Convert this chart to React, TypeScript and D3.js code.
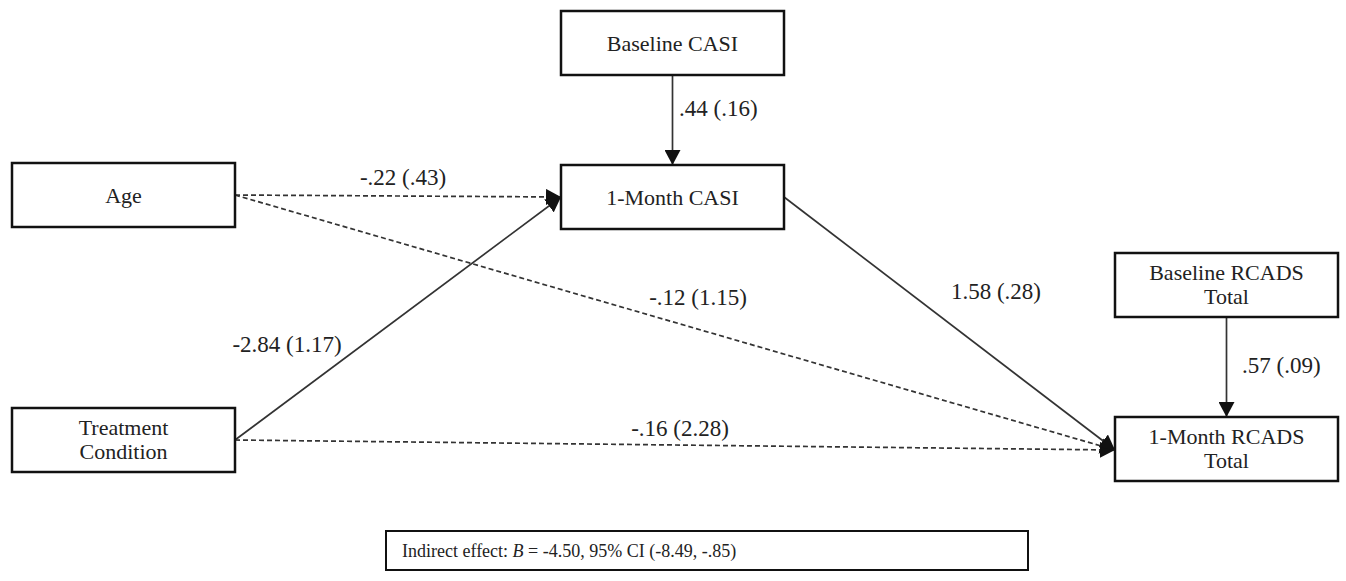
import { useRef, useEffect } from "react";
import * as d3 from "d3";

// variables in the path model
const nodeIds = ["age", "treat", "baseCasi", "casi", "baseRcads", "rcads"];
const nodeLabels = [
  ["Age"],
  ["Treatment", "Condition"],
  ["Baseline CASI"],
  ["1-Month CASI"],
  ["Baseline RCADS", "Total"],
  ["1-Month RCADS", "Total"],
];

// paths: from, to, estimate (SE), significant
const edgeFrom = ["baseCasi", "age", "age", "treat", "treat", "casi", "baseRcads"];
const edgeTo = ["casi", "casi", "rcads", "casi", "rcads", "rcads", "rcads"];
const estimates = [0.44, -0.22, -0.12, -2.84, -0.16, 1.58, 0.57];
const stdErrors = [0.16, 0.43, 1.15, 1.17, 2.28, 0.28, 0.09];
const significant = [true, false, false, true, false, true, true];

const indirectB = -4.5;
const indirectCI = [-8.49, -0.85];

// layout (diagram coordinates)
const nodePos: Record<string, [number, number]> = {
  age: [12, 163],
  treat: [12, 408],
  baseCasi: [561, 11],
  casi: [561, 165],
  baseRcads: [1115, 253],
  rcads: [1115, 417],
};
const labelPos: [number, number, string][] = [
  [679, 116, "start"],
  [403, 185, "middle"],
  [698, 305, "middle"],
  [287, 352, "middle"],
  [680, 436, "middle"],
  [996, 299, "middle"],
  [1242, 373, "start"],
];

const fmt = (n: number) => n.toFixed(2).replace(/^(-?)0\./, "$1.");

const App = () => {
  const ref = useRef<HTMLDivElement>(null);

  useEffect(() => {
    const width = 1346;
    const height = 581;
    const boxW = 223;
    const boxH = 64;
    const font = "'Liberation Serif', 'Times New Roman', serif";

    const svg = d3
      .select(ref.current)
      .html("")
      .append("svg")
      .attr("width", width)
      .attr("height", height)
      .style("display", "block")
      .style("background", "#fff");

    svg
      .append("defs")
      .append("marker")
      .attr("id", "head")
      .attr("viewBox", "0 0 15 16")
      .attr("refX", 15)
      .attr("refY", 8)
      .attr("markerWidth", 15)
      .attr("markerHeight", 16)
      .attr("markerUnits", "userSpaceOnUse")
      .attr("orient", "auto")
      .append("path")
      .attr("d", "M0,0L15,8L0,16Z")
      .attr("fill", "#111");

    const box = (id: string) => {
      const [x, y] = nodePos[id];
      return { x, y, cx: x + boxW / 2, cy: y + boxH / 2, r: x + boxW, b: y + boxH };
    };

    const anchor = (from: string, to: string) => {
      const a = box(from);
      const b = box(to);
      if (Math.abs(a.cx - b.cx) < 1) return [[a.cx, a.b], [b.cx, b.y]];
      const endY = to === "rcads" ? b.cy + 1 : b.cy;
      return [[a.r, a.cy], [b.x, endY]];
    };

    const line = d3.line();

    edgeFrom.forEach((from, i) => {
      const pts = anchor(from, edgeTo[i]) as [number, number][];
      svg
        .append("path")
        .attr("d", line(pts))
        .attr("fill", "none")
        .attr("stroke", "#333")
        .attr("stroke-width", 1.7)
        .attr("stroke-dasharray", significant[i] ? null : "5,3")
        .attr("marker-end", "url(#head)");

      const [lx, ly, anc] = labelPos[i];
      svg
        .append("text")
        .attr("x", lx)
        .attr("y", ly)
        .attr("text-anchor", anc)
        .attr("font-family", font)
        .attr("font-size", 23)
        .attr("fill", "#222")
        .text(`${fmt(estimates[i])} (${fmt(stdErrors[i])})`);
    });

    nodeIds.forEach((id, i) => {
      const b = box(id);
      svg
        .append("rect")
        .attr("x", b.x)
        .attr("y", b.y)
        .attr("width", boxW)
        .attr("height", boxH)
        .attr("fill", "#fff")
        .attr("stroke", "#111")
        .attr("stroke-width", 2.5);
      const lines = nodeLabels[i];
      const t = svg
        .append("text")
        .attr("text-anchor", "middle")
        .attr("font-family", font)
        .attr("font-size", 22)
        .attr("fill", "#222");
      lines.forEach((s, k) => {
        t.append("tspan")
          .attr("x", b.cx)
          .attr("y", b.cy + (lines.length === 1 ? 8 : 6.5) + (k - (lines.length - 1) / 2) * 24)
          .text(s);
      });
    });

    // indirect effect box
    svg
      .append("rect")
      .attr("x", 386)
      .attr("y", 531)
      .attr("width", 642)
      .attr("height", 39)
      .attr("fill", "#fff")
      .attr("stroke", "#111")
      .attr("stroke-width", 2);
    const it = svg
      .append("text")
      .attr("x", 402)
      .attr("y", 557)
      .attr("font-family", font)
      .attr("font-size", 18)
      .attr("fill", "#222");
    it.append("tspan").text("Indirect effect: ");
    it.append("tspan").attr("font-style", "italic").text("B");
    it.append("tspan").text(
      ` = ${indirectB.toFixed(2)}, 95% CI (${fmt(indirectCI[0])}, ${fmt(indirectCI[1])})`
    );
  }, []);

  return <div ref={ref} style={{ position: "absolute", left: 0, top: 0 }} />;
};

export default App;
